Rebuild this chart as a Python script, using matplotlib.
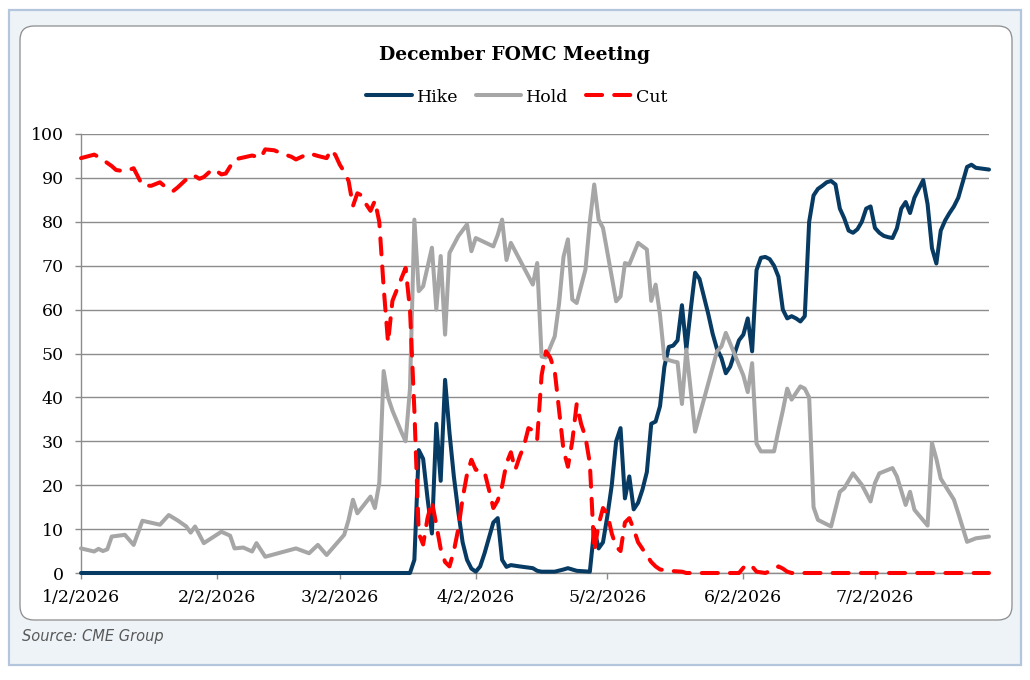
import matplotlib
matplotlib.use('Agg')
import matplotlib.pyplot as plt
from matplotlib.patches import FancyBboxPatch, Rectangle
from matplotlib.lines import Line2D
import pandas as pd

# ---------------- data ----------------
hike_dates = ['2026-01-02', '2026-03-18', '2026-03-19', '2026-03-20', '2026-03-21', '2026-03-22',
              '2026-03-23', '2026-03-24', '2026-03-25', '2026-03-26', '2026-03-27', '2026-03-28',
              '2026-03-29', '2026-03-30', '2026-03-31', '2026-04-01', '2026-04-02', '2026-04-03',
              '2026-04-04', '2026-04-05', '2026-04-06', '2026-04-07', '2026-04-08', '2026-04-09',
              '2026-04-10', '2026-04-12', '2026-04-15', '2026-04-16', '2026-04-17', '2026-04-20',
              '2026-04-22', '2026-04-23', '2026-04-25', '2026-04-28', '2026-04-29', '2026-04-30',
              '2026-05-01', '2026-05-02', '2026-05-03', '2026-05-04', '2026-05-05', '2026-05-06',
              '2026-05-07', '2026-05-08', '2026-05-09', '2026-05-10', '2026-05-11', '2026-05-12',
              '2026-05-13', '2026-05-14', '2026-05-15', '2026-05-16', '2026-05-17', '2026-05-18',
              '2026-05-19', '2026-05-20', '2026-05-21', '2026-05-22', '2026-05-23', '2026-05-24',
              '2026-05-25', '2026-05-26', '2026-05-27', '2026-05-28', '2026-05-29', '2026-05-30',
              '2026-05-31', '2026-06-01', '2026-06-02', '2026-06-03', '2026-06-04', '2026-06-05',
              '2026-06-06', '2026-06-07', '2026-06-08', '2026-06-09', '2026-06-10', '2026-06-11',
              '2026-06-12', '2026-06-13', '2026-06-14', '2026-06-15', '2026-06-16', '2026-06-17',
              '2026-06-18', '2026-06-19', '2026-06-20', '2026-06-21', '2026-06-22', '2026-06-23',
              '2026-06-24', '2026-06-25', '2026-06-26', '2026-06-27', '2026-06-28', '2026-06-29',
              '2026-06-30', '2026-07-01', '2026-07-02', '2026-07-03', '2026-07-04', '2026-07-05',
              '2026-07-06', '2026-07-07', '2026-07-08', '2026-07-09', '2026-07-10', '2026-07-11',
              '2026-07-12', '2026-07-13', '2026-07-14', '2026-07-15', '2026-07-16', '2026-07-17',
              '2026-07-18', '2026-07-19', '2026-07-20', '2026-07-21', '2026-07-22', '2026-07-23',
              '2026-07-24', '2026-07-25', '2026-07-28']
hike_values = [0, 0, 3, 28, 26, 17,
               9, 34, 21, 44, 32, 22,
               14, 7, 3, 1, 0.3, 1.5,
               4.5, 8, 11.5, 12.5, 3, 1.4,
               1.8, 1.5, 1.1, 0.5, 0.3, 0.3,
               0.8, 1.1, 0.5, 0.3, 10, 5.6,
               7, 13, 20, 30, 33, 17,
               22, 14.5, 16, 19, 23, 34,
               34.5, 38, 47, 51.5, 51.8, 53,
               61, 51, 60, 68.4, 67, 63,
               59, 54.5, 51, 49, 45.5, 47,
               50, 53, 54.3, 58, 50.5, 69,
               71.8, 72, 71.5, 70, 67.5, 60,
               58, 58.5, 58, 57.3, 58.5, 80,
               86, 87.5, 88.2, 89, 89.3, 88.5,
               83, 80.8, 78, 77.5, 78.3, 80,
               83, 83.5, 78.6, 77.5, 76.8, 76.5,
               76.3, 78.5, 83, 84.5, 82, 85.5,
               87.5, 89.5, 84, 74, 70.5, 78,
               80.3, 82, 83.5, 85.5, 89, 92.5,
               93, 92.3, 91.9]

hold_dates = ['2026-01-02', '2026-01-05', '2026-01-06', '2026-01-07', '2026-01-08', '2026-01-09',
              '2026-01-12', '2026-01-14', '2026-01-16', '2026-01-20', '2026-01-22', '2026-01-24',
              '2026-01-26', '2026-01-27', '2026-01-28', '2026-01-30', '2026-02-03', '2026-02-05',
              '2026-02-06', '2026-02-08', '2026-02-10', '2026-02-11', '2026-02-13', '2026-02-20',
              '2026-02-23', '2026-02-25', '2026-02-27', '2026-03-03', '2026-03-04', '2026-03-05',
              '2026-03-06', '2026-03-09', '2026-03-10', '2026-03-11', '2026-03-12', '2026-03-13',
              '2026-03-14', '2026-03-16', '2026-03-17', '2026-03-18', '2026-03-19', '2026-03-20',
              '2026-03-21', '2026-03-23', '2026-03-24', '2026-03-25', '2026-03-26', '2026-03-27',
              '2026-03-29', '2026-03-31', '2026-04-01', '2026-04-02', '2026-04-06', '2026-04-07',
              '2026-04-08', '2026-04-09', '2026-04-10', '2026-04-15', '2026-04-16', '2026-04-17',
              '2026-04-18', '2026-04-20', '2026-04-21', '2026-04-22', '2026-04-23', '2026-04-24',
              '2026-04-25', '2026-04-27', '2026-04-28', '2026-04-29', '2026-04-30', '2026-05-01',
              '2026-05-04', '2026-05-05', '2026-05-06', '2026-05-07', '2026-05-09', '2026-05-11',
              '2026-05-12', '2026-05-13', '2026-05-14', '2026-05-15', '2026-05-17', '2026-05-18',
              '2026-05-19', '2026-05-20', '2026-05-22', '2026-05-27', '2026-05-28', '2026-05-29',
              '2026-06-02', '2026-06-03', '2026-06-04', '2026-06-05', '2026-06-06', '2026-06-09',
              '2026-06-10', '2026-06-11', '2026-06-12', '2026-06-13', '2026-06-15', '2026-06-16',
              '2026-06-17', '2026-06-18', '2026-06-19', '2026-06-22', '2026-06-24', '2026-06-25',
              '2026-06-27', '2026-06-29', '2026-07-01', '2026-07-02', '2026-07-03', '2026-07-06',
              '2026-07-07', '2026-07-09', '2026-07-10', '2026-07-11', '2026-07-14', '2026-07-15',
              '2026-07-16', '2026-07-17', '2026-07-20', '2026-07-21', '2026-07-23', '2026-07-25',
              '2026-07-28']
hold_values = [5.6, 4.9, 5.5, 5.0, 5.4, 8.3,
               8.7, 6.4, 11.9, 11.0, 13.2, 12.0,
               10.6, 9.2, 10.6, 6.8, 9.4, 8.5,
               5.6, 5.8, 4.9, 6.8, 3.7, 5.6,
               4.5, 6.4, 4.1, 8.7, 12.1, 16.7,
               13.6, 17.4, 14.8, 20.5, 46, 40,
               37, 32.2, 30, 42, 80.5, 64.2,
               65.3, 74.1, 60, 72.2, 54.3, 72.9,
               76.7, 79.4, 73.3, 76.3, 74.4, 77,
               80.5, 71.3, 75.2, 65.7, 70.6, 49.3,
               49.1, 53.9, 61.5, 72, 76, 62.3,
               61.5, 69.1, 80, 88.5, 80.5, 78.6,
               61.9, 63, 70.6, 70.3, 75.2, 73.7,
               62, 65.7, 58.8, 48.8, 48.2, 48,
               38.5, 50.9, 32.2, 50.5, 51.6, 54.7,
               45, 41.2, 47.8, 29.5, 27.7, 27.7,
               32.5, 37, 42, 39.5, 42.5, 42,
               40, 15, 12.1, 10.6, 18.5, 19.3,
               22.7, 20.1, 16.3, 20.5, 22.7, 23.9,
               22, 15.5, 18.5, 14.4, 10.8, 29.6,
               26, 21.5, 16.7, 13.6, 7.1, 7.9,
               8.3]

cut_dates = ['2026-01-02', '2026-01-05', '2026-01-06', '2026-01-09', '2026-01-10', '2026-01-12',
             '2026-01-14', '2026-01-16', '2026-01-18', '2026-01-20', '2026-01-22', '2026-01-23',
             '2026-01-24', '2026-01-27', '2026-01-28', '2026-01-29', '2026-01-30', '2026-02-01',
             '2026-02-02', '2026-02-03', '2026-02-04', '2026-02-06', '2026-02-10', '2026-02-12',
             '2026-02-13', '2026-02-15', '2026-02-17', '2026-02-19', '2026-02-20', '2026-02-23',
             '2026-02-25', '2026-02-27', '2026-02-28', '2026-03-01', '2026-03-02', '2026-03-03',
             '2026-03-04', '2026-03-05', '2026-03-06', '2026-03-07', '2026-03-08', '2026-03-09',
             '2026-03-10', '2026-03-11', '2026-03-12', '2026-03-13', '2026-03-14', '2026-03-15',
             '2026-03-16', '2026-03-17', '2026-03-18', '2026-03-19', '2026-03-20', '2026-03-21',
             '2026-03-22', '2026-03-23', '2026-03-24', '2026-03-25', '2026-03-26', '2026-03-27',
             '2026-03-28', '2026-03-29', '2026-03-30', '2026-03-31', '2026-04-01', '2026-04-02',
             '2026-04-03', '2026-04-04', '2026-04-05', '2026-04-06', '2026-04-07', '2026-04-08',
             '2026-04-09', '2026-04-10', '2026-04-11', '2026-04-12', '2026-04-13', '2026-04-14',
             '2026-04-15', '2026-04-16', '2026-04-17', '2026-04-18', '2026-04-19', '2026-04-20',
             '2026-04-21', '2026-04-22', '2026-04-23', '2026-04-24', '2026-04-25', '2026-04-26',
             '2026-04-27', '2026-04-28', '2026-04-29', '2026-04-30', '2026-05-01', '2026-05-02',
             '2026-05-03', '2026-05-04', '2026-05-05', '2026-05-06', '2026-05-07', '2026-05-08',
             '2026-05-09', '2026-05-10', '2026-05-11', '2026-05-12', '2026-05-13', '2026-05-14',
             '2026-05-16', '2026-05-19', '2026-05-20', '2026-06-01', '2026-06-02', '2026-06-03',
             '2026-06-04', '2026-06-05', '2026-06-07', '2026-06-09', '2026-06-10', '2026-06-11',
             '2026-06-12', '2026-06-13', '2026-07-28']
cut_values = [94.5, 95.3, 94.8, 92.7, 91.8, 91.5,
              92.2, 88.3, 88.2, 89, 87.3, 87,
              87.8, 90.6, 90.4, 89.8, 90.2, 92,
              91.5, 90.8, 91, 94.2, 95.1, 94.6,
              96.5, 96.3, 95.5, 94.8, 94.2, 95.6,
              95, 94.5, 96.4, 95.2, 93, 91.4,
              89.3, 83.6, 86.5, 86, 84, 82.5,
              84.8, 80, 65, 52.5, 62, 64.5,
              67, 69.5, 60, 37, 9, 6.5,
              12.5, 16.3, 11, 5.5, 2.5, 1.5,
              5, 10, 17, 22.5, 25.8, 23.5,
              23.5, 23, 19, 14.8, 16.5, 19.8,
              25, 27.5, 23.5, 26.5, 29, 33,
              32.5, 30.5, 45, 50.5, 49, 46,
              37, 28, 24.2, 30, 38.5, 34,
              31, 25, 5, 11, 14.8, 13.5,
              9, 6, 5, 11.5, 12.5, 10,
              7, 5.5, 4, 2.5, 1.5, 0.8,
              0.5, 0.3, 0, 0, 1.2, 2,
              1.5, 0.3, 0, 0.8, 1.5, 1,
              0.3, 0, 0]

x_start = '2026-01-02'
x_end = '2026-07-28'
tick_dates = ['2026-01-02', '2026-02-02', '2026-03-02', '2026-04-02', '2026-05-02', '2026-06-02', '2026-07-02']
tick_labels = ['1/2/2026', '2/2/2026', '3/2/2026', '4/2/2026', '5/2/2026', '6/2/2026', '7/2/2026']
y_ticks = [0, 10, 20, 30, 40, 50, 60, 70, 80, 90, 100]
series_names = ['Hike', 'Hold', 'Cut']
title_text = 'December FOMC Meeting'
source_text = 'Source: CME Group'

# ---------------- style ----------------
plt.rcParams['font.family'] = ['DejaVu Serif']
HIKE_C = '#073B63'
HOLD_C = '#A6A6A6'
CUT_C = '#FF0000'
GRID_C = '#8C8C8C'
LW = 2.9

W, H = 1030, 680
fig = plt.figure(figsize=(W / 100, H / 100), dpi=100)
fig.patch.set_facecolor('white')

outer = Rectangle((0.09, 0.15), 10.12, 6.55, transform=fig.dpi_scale_trans,
                  facecolor='#EEF3F8', edgecolor='#B3C6DB', linewidth=1.6, zorder=-20)
fig.patches.append(outer)
inner = FancyBboxPatch((0.20, 0.60), 9.92, 5.94, boxstyle='round,pad=0,rounding_size=0.14',
                       transform=fig.dpi_scale_trans, facecolor='white',
                       edgecolor='#8C8C8C', linewidth=0.9, zorder=-10)
fig.patches.append(inner)

ax = fig.add_axes([81 / W, (H - 573) / H, 908 / W, 439 / H])
ax.set_facecolor('none')

hike_x = pd.to_datetime(hike_dates)
hold_x = pd.to_datetime(hold_dates)
cut_x = pd.to_datetime(cut_dates)

ax.plot(hike_x, hike_values, color=HIKE_C, lw=LW, solid_joinstyle='round',
        solid_capstyle='round', zorder=3, clip_on=False)
ax.plot(hold_x, hold_values, color=HOLD_C, lw=LW, solid_joinstyle='round',
        solid_capstyle='round', zorder=4, clip_on=False)
ax.plot(cut_x, cut_values, color=CUT_C, lw=LW, linestyle=(0, (4, 3)),
        dash_capstyle='round', dash_joinstyle='round', zorder=5, clip_on=False)

ax.set_xlim(pd.Timestamp(x_start), pd.Timestamp(x_end))
ax.set_ylim(0, 100)
ax.set_yticks(y_ticks)
ax.set_yticklabels([str(v) for v in y_ticks])
ax.set_xticks(pd.to_datetime(tick_dates))
ax.set_xticklabels(tick_labels)

ax.yaxis.grid(True, color=GRID_C, lw=1.0)
ax.xaxis.grid(False)
ax.set_axisbelow(True)
for s in ['top', 'right']:
    ax.spines[s].set_visible(False)
for s in ['left', 'bottom']:
    ax.spines[s].set_color(GRID_C)
    ax.spines[s].set_linewidth(1.0)
ax.tick_params(axis='both', direction='out', length=4.5, width=1, color=GRID_C,
               labelsize=12.5, labelcolor='black')
ax.tick_params(axis='y', pad=8)
ax.tick_params(axis='x', pad=7)

fig.text(0.5, 1 - 55 / H, title_text, ha='center', va='center',
         fontsize=13.5, fontweight='bold', family='DejaVu Serif')

handles = [Line2D([], [], color=HIKE_C, lw=LW, solid_capstyle='round'),
           Line2D([], [], color=HOLD_C, lw=LW, solid_capstyle='round'),
           Line2D([], [], color=CUT_C, lw=LW, linestyle=(0, (4, 3)), dash_capstyle='round')]
fig.legend(handles, series_names, loc='center', bbox_to_anchor=(517 / W, 1 - 97 / H),
           ncol=3, frameon=False, fontsize=12.5, handlelength=2.6, handletextpad=0.3,
           columnspacing=1.0)

fig.text(22 / W, 1 - 636 / H, source_text, ha='left', va='center', fontsize=10.5,
         style='italic', color='#595959', family='DejaVu Sans')

fig.savefig('out.png', dpi=100)
